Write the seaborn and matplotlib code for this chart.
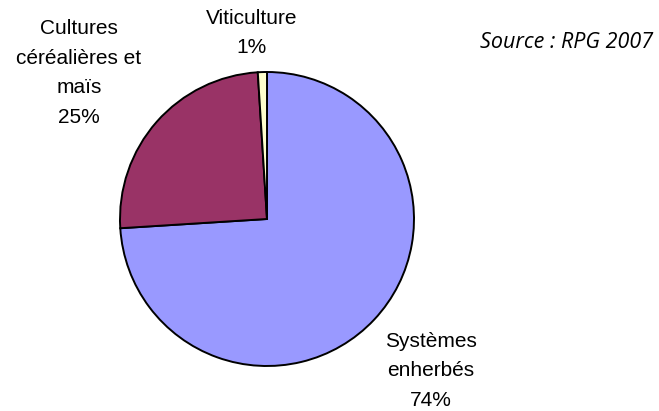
import matplotlib
matplotlib.use("Agg")
import matplotlib.pyplot as plt
import seaborn as sns

# Land-use shares (RPG 2007)
categories = ["Systèmes\nenherbés", "Cultures\ncéréalières et\nmaïs", "Viticulture"]
shares = [74, 25, 1]
colors = ["#9999FF", "#993366", "#FFFFCC"]

sns.set_theme(style="white")
plt.rcParams["font.family"] = ["Liberation Sans", "DejaVu Sans"]

W, H = 659, 411
fig = plt.figure(figsize=(W / 100, H / 100), dpi=100)
ax = fig.add_axes([0, 0, 1, 1])

ax.pie(shares, colors=colors, startangle=90, counterclock=False,
       center=(267, H - 219), radius=147,
       wedgeprops=dict(edgecolor="black", linewidth=1.4))

ax.set_xlim(0, W)
ax.set_ylim(0, H)
ax.set_aspect("equal")
ax.set_axis_off()

label_pos = [(431, H - 371), (79, H - 73), (252, H - 33)]
for name, val, (x, y) in zip(categories, shares, label_pos):
    ax.text(x, y, f"{name}\n{val}%", ha="center", va="center",
            fontsize=15, linespacing=1.72, color="black")

ax.text(653, H - 42, "Source : RPG 2007", ha="right", va="center",
        fontsize=15.5, style="italic", family=["Open Sans", "DejaVu Sans"],
        color="black")

fig.savefig("out.png", dpi=100)
